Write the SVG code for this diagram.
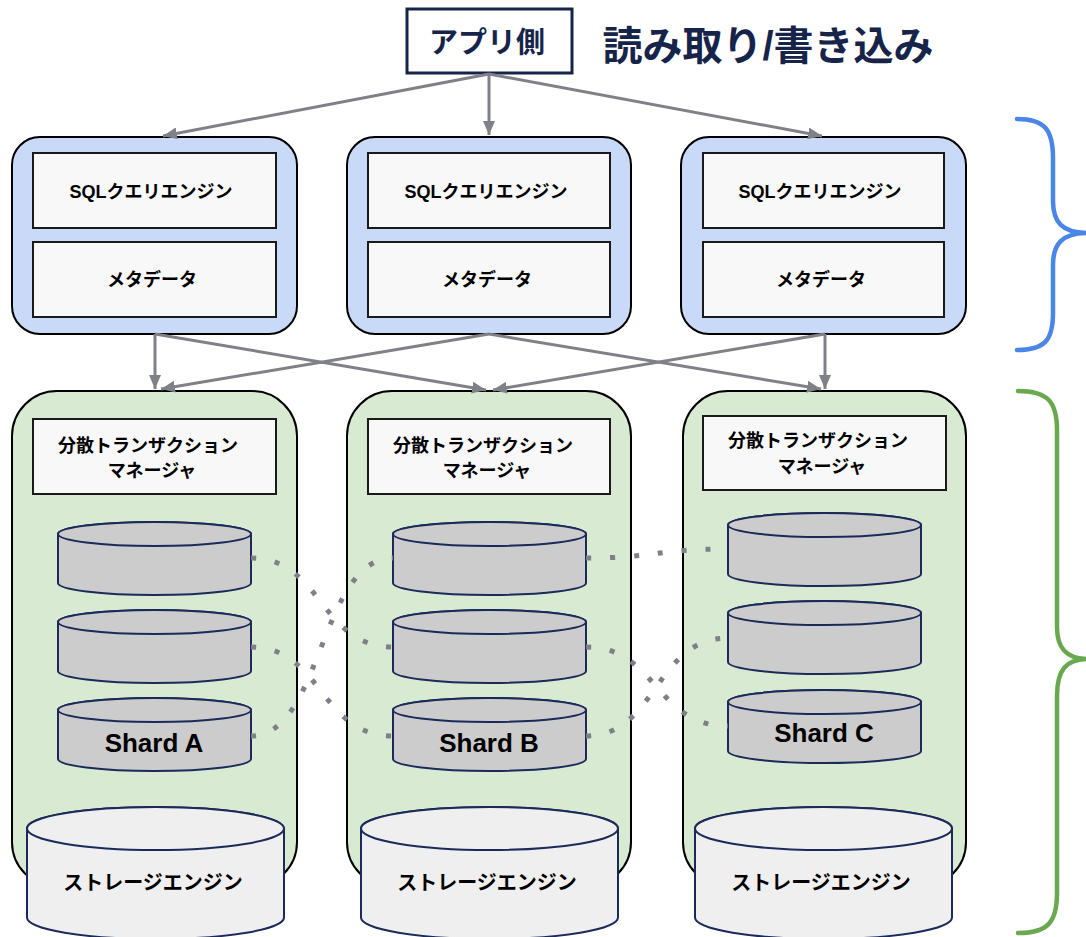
<svg xmlns="http://www.w3.org/2000/svg" width="1086" height="937" viewBox="0 0 1086 937">
  <style>
    .jp { font-family: "Liberation Sans", "Noto Sans CJK JP", sans-serif; font-weight: bold; text-anchor: middle; fill: #000; }
    .navy { fill: #172449; }
    .sqlnode { fill: #c9daf8; stroke: #000; stroke-width: 2; }
    .dbnode { fill: #d9ead3; stroke: #000; stroke-width: 2; }
    .inner { fill: #f8f8f8; stroke: #1a1a1a; stroke-width: 2; }
    .arrow { fill: none; stroke: #808089; stroke-width: 3; marker-end: url(#head); }
    .dots { fill: none; stroke: #7f7f87; stroke-width: 5; stroke-dasharray: 5 19; }
    .brace { fill: none; stroke-width: 4.5; stroke-linecap: round; }
    .shardbody { fill: #cccccc; stroke: #1c2a5a; stroke-width: 2; }
    .storebody { fill: #efefef; stroke: #1c2a5a; stroke-width: 2; }
  </style>
  <defs>
    <marker id="head" markerUnits="userSpaceOnUse" markerWidth="14" markerHeight="12" refX="14" refY="6" orient="auto">
      <path d="M0,0 L14,6 L0,12 Z" fill="#808089"/>
    </marker>
    <g id="shard">
      <path class="shardbody" d="M0,12 L0,61 A96.5,12 0 0 0 193,61 L193,12 A96.5,12 0 0 0 0,12 Z"/>
      <ellipse class="shardbody" cx="96.5" cy="12" rx="96.5" ry="12"/>
    </g>
    <g id="storage">
      <path class="storebody" d="M0,21.5 L0,110.5 A128.5,21.5 0 0 0 257,110.5 L257,21.5 A128.5,21.5 0 0 0 0,21.5 Z"/>
      <ellipse class="storebody" cx="128.5" cy="21.5" rx="128.5" ry="21.5"/>
    </g>
  </defs>

  <rect width="1086" height="937" fill="#ffffff"/>

  <!-- client -->
  <g id="app">
    <rect x="407" y="9" width="165" height="64" fill="#ffffff" stroke="#172449" stroke-width="3"/>
    <text class="jp navy" x="487" y="53" font-size="29">アプリ側</text>
  </g>
  <text id="title" class="jp navy" x="768" y="60" font-size="40">読み取り/書き込み</text>

  <!-- SQL layer -->
  <g id="sql-1">
    <rect class="sqlnode" x="12" y="137" width="285" height="197" rx="28"/>
    <rect class="inner" x="33" y="153" width="243" height="75"/>
    <text class="jp" x="151" y="198" font-size="18">SQLクエリエンジン</text>
    <rect class="inner" x="33" y="242" width="243" height="75"/>
    <text class="jp" x="152" y="286" font-size="18">メタデータ</text>
  </g>
  <g id="sql-2">
    <rect class="sqlnode" x="347" y="137" width="284" height="197" rx="28"/>
    <rect class="inner" x="368" y="153" width="242" height="75"/>
    <text class="jp" x="486" y="198" font-size="18">SQLクエリエンジン</text>
    <rect class="inner" x="368" y="242" width="242" height="75"/>
    <text class="jp" x="487" y="286" font-size="18">メタデータ</text>
  </g>
  <g id="sql-3">
    <rect class="sqlnode" x="681" y="137" width="285" height="197" rx="28"/>
    <rect class="inner" x="703" y="153" width="241" height="75"/>
    <text class="jp" x="820" y="198" font-size="18">SQLクエリエンジン</text>
    <rect class="inner" x="703" y="242" width="241" height="75"/>
    <text class="jp" x="821" y="286" font-size="18">メタデータ</text>
  </g>

  <!-- storage layer -->
  <g id="db-a">
    <rect class="dbnode" x="12" y="391" width="285" height="496" rx="45"/>
    <rect class="inner" x="33" y="419" width="243" height="75"/>
    <text class="jp" x="148" y="452" font-size="18">分散トランザクション</text>
    <text class="jp" x="152" y="477" font-size="18">マネージャ</text>
    <use href="#shard" x="58" y="522"/>
    <use href="#shard" x="58" y="610"/>
    <use href="#shard" x="58" y="698"/>
    <text class="jp" x="154" y="752" font-size="26">Shard A</text>
    <use href="#storage" x="27" y="807"/>
    <text class="jp" x="153" y="890" font-size="20">ストレージエンジン</text>
  </g>
  <g id="db-b">
    <rect class="dbnode" x="347" y="391" width="284" height="496" rx="45"/>
    <rect class="inner" x="368" y="419" width="242" height="75"/>
    <text class="jp" x="483" y="452" font-size="18">分散トランザクション</text>
    <text class="jp" x="487" y="477" font-size="18">マネージャ</text>
    <use href="#shard" x="393" y="522"/>
    <use href="#shard" x="393" y="610"/>
    <use href="#shard" x="393" y="698"/>
    <text class="jp" x="489" y="752" font-size="26">Shard B</text>
    <use href="#storage" x="361" y="807"/>
    <text class="jp" x="487" y="890" font-size="20">ストレージエンジン</text>
  </g>
  <g id="db-c">
    <rect class="dbnode" x="683" y="391" width="283" height="496" rx="45"/>
    <rect class="inner" x="703" y="416" width="243" height="74"/>
    <text class="jp" x="818" y="447" font-size="18">分散トランザクション</text>
    <text class="jp" x="822" y="473" font-size="18">マネージャ</text>
    <use href="#shard" x="728" y="513"/>
    <use href="#shard" x="728" y="601"/>
    <use href="#shard" x="728" y="690"/>
    <text class="jp" x="824" y="742" font-size="26">Shard C</text>
    <use href="#storage" x="695" y="807"/>
    <text class="jp" x="821" y="890" font-size="20">ストレージエンジン</text>
  </g>

  <!-- connectors -->
  <g id="connectors">
    <line class="arrow" x1="489" y1="74" x2="163" y2="136"/>
    <line class="arrow" x1="489" y1="74" x2="489" y2="135"/>
    <line class="arrow" x1="489" y1="74" x2="822" y2="136"/>

    <line class="arrow" x1="155" y1="334" x2="155" y2="389"/>
    <line class="arrow" x1="155" y1="334" x2="486" y2="390"/>
    <line class="arrow" x1="489" y1="334" x2="161" y2="389"/>
    <line class="arrow" x1="489" y1="334" x2="821" y2="389"/>
    <line class="arrow" x1="825" y1="334" x2="825" y2="389"/>
    <line class="arrow" x1="825" y1="334" x2="493" y2="390"/>

    <!-- replica links between shards -->
    <path class="dots" d="M251,558 C322,558 320,647 393,647"/>
    <path class="dots" d="M251,647 C322,647 320,736 393,736"/>
    <path class="dots" d="M251,736 C322,736 320,558 393,558"/>
    <path class="dots" d="M586,558 C657,558 655,549 728,549"/>
    <path class="dots" d="M586,647 C657,647 655,726 728,726"/>
    <path class="dots" d="M586,736 C657,736 655,638 728,638"/>
  </g>

  <!-- layer brackets -->
  <g id="brackets">
    <path class="brace" stroke="#4a86e8" d="M1017,119 C1045,119 1053,130 1053,158 L1053,201 C1053,222 1062,233 1088,233 C1062,233 1053,244 1053,265 L1053,313 C1053,340 1045,350 1017,350"/>
    <path class="brace" stroke="#6aa84f" d="M1018,391 C1048,391 1057,402 1057,430 L1057,627 C1057,648 1066,659 1088,659 C1066,659 1057,670 1057,696 L1057,893 C1057,922 1048,933 1018,933"/>
  </g>
</svg>
